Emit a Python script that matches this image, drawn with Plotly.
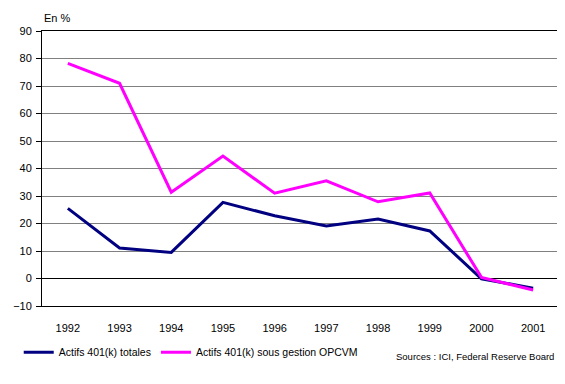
import plotly.graph_objects as go

years = ["1992", "1993", "1994", "1995", "1996", "1997", "1998", "1999", "2000", "2001"]
actifs_totales = [25.5, 11.1, 9.5, 27.7, 22.8, 19.1, 21.6, 17.3, -0.1, -3.5]
actifs_opcvm = [78.2, 71.0, 31.4, 44.5, 31.0, 35.5, 27.9, 31.1, 0.4, -4.2]
y_ticks = [-10, 0, 10, 20, 30, 40, 50, 60, 70, 80, 90]

FONT = "Liberation Sans, Arial, sans-serif"

fig = go.Figure()
fig.add_trace(go.Scatter(x=years, y=actifs_totales, mode="lines",
                         name="Actifs 401(k) totales",
                         line=dict(color="#000080", width=3)))
fig.add_trace(go.Scatter(x=years, y=actifs_opcvm, mode="lines",
                         name="Actifs 401(k) sous gestion OPCVM",
                         line=dict(color="#FF00FF", width=3)))

# page body has an 8px default margin, so the figure is sized to fit
fig.update_layout(
    width=557, height=376,
    margin=dict(l=25.5, r=5, t=23, b=78),
    paper_bgcolor="white", plot_bgcolor="white",
    font=dict(family=FONT, size=11, color="black"),
    showlegend=True,
    legend=dict(orientation="h", x=-0.045, xanchor="left", y=-0.168, yanchor="middle",
                font=dict(size=10.5), itemwidth=30, tracegroupgap=0,
                bgcolor="rgba(0,0,0,0)"),
    xaxis=dict(type="category", range=[-0.5, 9.5], showgrid=False,
               showline=True, linecolor="black", linewidth=1, mirror=True,
               ticks="", ticklabelstandoff=12, tickfont=dict(size=11)),
    yaxis=dict(range=[-10, 90], tickvals=y_ticks, showgrid=True,
               gridcolor="#808080", gridwidth=1,
               zeroline=True, zerolinecolor="black", zerolinewidth=1,
               showline=True, linecolor="black", linewidth=1, mirror=True,
               ticks="outside", ticklen=5, tickcolor="black",
               ticklabelstandoff=2, tickfont=dict(size=11)),
    annotations=[
        dict(text="En %", xref="paper", yref="paper", x=0, y=1.048,
             xanchor="left", yanchor="middle", showarrow=False,
             font=dict(size=11)),
        dict(text="Sources : ICI, Federal Reserve Board", xref="paper", yref="paper",
             x=0.994, y=-0.185, xanchor="right", yanchor="middle", showarrow=False,
             font=dict(size=9.5)),
    ],
)

fig.write_html("out.html")
